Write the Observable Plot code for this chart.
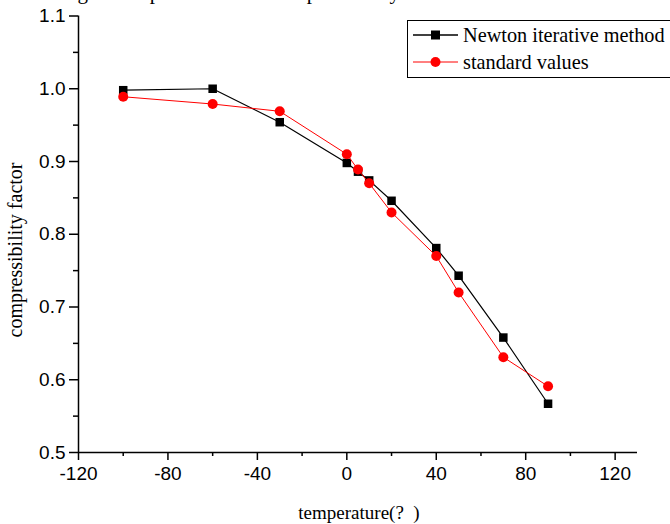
<!DOCTYPE html>
<html>
<head>
<meta charset="utf-8">
<script src="https://cdn.jsdelivr.net/npm/d3@7"></script>
<script src="https://cdn.jsdelivr.net/npm/@observablehq/plot@0.6"></script>
<style>
  html, body { margin: 0; padding: 0; background: #fff; }
  #wrap { position: relative; width: 670px; height: 524px; overflow: hidden; background: #fff; }
  #chart { position: absolute; left: 0; top: 0; }
  #title { position: absolute; left: 60px; top: -18px; white-space: nowrap; font-family: "Liberation Serif", "Times New Roman", serif; font-size: 21px; line-height: 20px; color: #000; }
  #xlabel { position: absolute; left: 0; width: 718px; top: 502px; text-align: center; font-family: "Liberation Serif", "Times New Roman", serif; font-size: 19px; color: #000; }
  #ylabel { position: absolute; left: 0; top: 130px; }
  #legend { position: absolute; left: 407px; top: 20px; width: 290px; height: 56px; border: 1px solid #000; background: #fff; font-family: "Liberation Serif", "Times New Roman", serif; font-size: 20.3px; color: #000; }
  .row { position: absolute; left: 0; height: 24px; display: flex; align-items: center; white-space: nowrap; }
  .row svg { display: block; margin-left: 5px; margin-right: 5px; }
</style>
</head>
<body>
<div id="wrap">
  <div id="chart"></div>
  <div id="title">Fig.3 Comparison of the compressibility factor from Newton iterative method</div>
  <svg id="ylabel" width="30" height="240">
    <text transform="translate(22,120) rotate(-90)" text-anchor="middle" font-family="Liberation Serif, Times New Roman, serif" font-size="20" fill="#000">compressibility factor</text>
  </svg>
  <div id="xlabel">temperature(?&nbsp;&nbsp;)</div>
  <div id="legend"></div>
</div>
<script>
// ---- data ----
const temperature = [-100, -60, -30, 0, 5, 10, 20, 40, 50, 70, 90];
const newtonValues = [0.998, 1.000, 0.954, 0.898, 0.886, 0.874, 0.846, 0.781, 0.743, 0.658, 0.567];
const standardValues = [0.989, 0.979, 0.969, 0.910, 0.889, 0.870, 0.830, 0.770, 0.720, 0.631, 0.591];
const seriesNames = ["Newton iterative method", "standard values"];
const xTicks = [-120, -80, -40, 0, 40, 80, 120];
const xMinorTicks = [-100, -60, -20, 20, 60, 100];
const yTicks = [0.5, 0.6, 0.7, 0.8, 0.9, 1.0, 1.1];
const yMinorTicks = [0.55, 0.65, 0.75, 0.85, 0.95, 1.05];

const newton = temperature.map((t, i) => ({t, v: newtonValues[i]}));
const standard = temperature.map((t, i) => ({t, v: standardValues[i]}));

const chart = Plot.plot({
  width: 670,
  height: 524,
  marginLeft: 78,
  marginRight: 33,
  marginTop: 15.5,
  marginBottom: 72,
  style: {fontFamily: "'Liberation Sans', Arial, sans-serif", fontSize: "19px", color: "#000", background: "transparent", overflow: "visible"},
  x: {domain: [-120, 130]},
  y: {domain: [0.5, 1.1]},
  marks: [
    Plot.axisX({ticks: xTicks, tickSize: 8, tickPadding: 6, tickFormat: d => d, label: null, stroke: "#000", strokeWidth: 1.5, fontSize: 19}),
    Plot.axisX({ticks: xMinorTicks, tickSize: 4, text: null, label: null, stroke: "#000", strokeWidth: 1.5}),
    Plot.axisY({ticks: yTicks, tickSize: 9, tickPadding: 4, tickFormat: d3.format(".1f"), label: null, stroke: "#000", strokeWidth: 1.5, fontSize: 19}),
    Plot.axisY({ticks: yMinorTicks, tickSize: 5, text: null, label: null, stroke: "#000", strokeWidth: 1.5}),
    Plot.ruleY([0.5], {stroke: "#000", strokeWidth: 1.5}),
    Plot.ruleX([-120], {stroke: "#000", strokeWidth: 1.5}),
    Plot.line(newton, {x: "t", y: "v", stroke: "#000", strokeWidth: 1.2}),
    Plot.dot(newton, {x: "t", y: "v", symbol: "square", r: 4.8, fill: "#000", stroke: "none"}),
    Plot.line(standard, {x: "t", y: "v", stroke: "#ff0000", strokeWidth: 1}),
    Plot.dot(standard, {x: "t", y: "v", symbol: "circle", r: 5, fill: "#ff0000", stroke: "none"})
  ]
});
document.getElementById("chart").appendChild(chart);

// legend
const legend = document.getElementById("legend");
const swatches = [
  {name: seriesNames[0], color: "#000", shape: "square", top: 2},
  {name: seriesNames[1], color: "#ff0000", shape: "circle", top: 29}
];
for (const s of swatches) {
  const row = document.createElement("div");
  row.className = "row";
  row.style.top = s.top + "px";
  const marker = s.shape === "square"
    ? `<rect x="18" y="7.5" width="9" height="9" fill="${s.color}"/>`
    : `<circle cx="22.5" cy="12" r="5" fill="${s.color}"/>`;
  row.innerHTML = `<svg width="45" height="24"><line x1="0" x2="45" y1="12" y2="12" stroke="${s.color}" stroke-width="${s.shape === "square" ? 1.5 : 1}"/>${marker}</svg><span>${s.name}</span>`;
  legend.appendChild(row);
}
</script>
</body>
</html>
